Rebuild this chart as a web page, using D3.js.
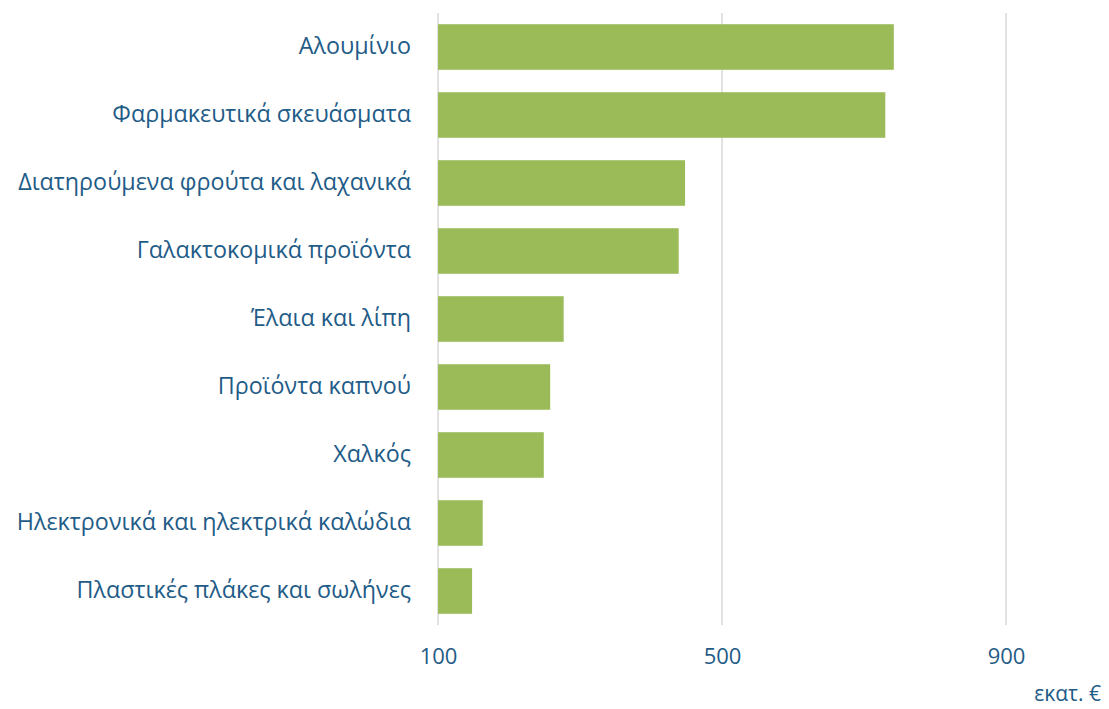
<!DOCTYPE html>
<meta charset="utf-8">
<head>
<style>
html, body{margin:0px; padding:0px; background:white;}
text{font-family:"Open Sans", "Noto Sans", sans-serif;}
</style>
</head>
<script src="https://d3js.org/d3.v7.min.js"></script>
<div id="my_dataviz"></div>
<script>

// data (million euro)
var categories = ["Αλουμίνιο", "Φαρμακευτικά σκευάσματα", "Διατηρούμενα φρούτα και λαχανικά",
  "Γαλακτοκομικά προϊόντα", "Έλαια και λίπη", "Προϊόντα καπνού", "Χαλκός",
  "Ηλεκτρονικά και ηλεκτρικά καλώδια", "Πλαστικές πλάκες και σωλήνες"]
var values = [742, 730, 448, 439, 277, 258, 249, 163, 148]
var tickValues = [100, 500, 900]
var unitLabel = "εκατ. €"

var width = 1109, height = 709
var textColor = "#1f5c87"

var svg = d3.select("#my_dataviz")
  .append("svg")
  .attr("width", width)
  .attr("height", height)

var x = d3.scaleLinear()
  .domain([100, 1000])
  .range([438, 438 + 900 * 0.71])

var y = d3.scaleBand()
  .domain(categories)
  .range([13, 625])
  .paddingInner(0.33)
  .paddingOuter(0.165)

// vertical gridlines
svg.append("g")
  .selectAll("line")
  .data(tickValues)
  .enter()
  .append("line")
    .attr("x1", function(d){ return x(d) })
    .attr("x2", function(d){ return x(d) })
    .attr("y1", 13)
    .attr("y2", 625)
    .style("stroke", "#d9d9d9")
    .style("stroke-width", 1.5)

// bars
svg.append("g")
  .selectAll("rect")
  .data(values)
  .enter()
  .append("rect")
    .attr("x", x(100))
    .attr("y", function(d, i){ return y(categories[i]) })
    .attr("width", function(d){ return x(d) - x(100) })
    .attr("height", y.bandwidth())
    .style("fill", "#9bbb59")

// category labels
svg.append("g")
  .attr("transform", "translate(" + x(100) + ",0)")
  .call(d3.axisLeft(y).tickSize(0).tickPadding(27))
  .call(function(g){ g.select(".domain").remove() })
  .selectAll("text")
    .style("font-size", "23.3px")
    .style("font-family", "'Open Sans', 'Noto Sans', sans-serif")
    .style("fill", textColor)

// x tick labels
svg.append("g")
  .attr("transform", "translate(0,625)")
  .call(d3.axisBottom(x).tickValues(tickValues).tickSize(0).tickPadding(23).tickFormat(d3.format("d")))
  .call(function(g){ g.select(".domain").remove() })
  .selectAll("text")
    .style("font-size", "22px")
    .style("font-family", "'Open Sans', 'Noto Sans', sans-serif")
    .style("fill", textColor)

// unit label, bottom right
svg.append("text")
  .attr("x", 1101)
  .attr("y", 701)
  .attr("text-anchor", "end")
  .style("font-size", "21px")
  .style("fill", textColor)
  .text(unitLabel)

</script>
</html>
